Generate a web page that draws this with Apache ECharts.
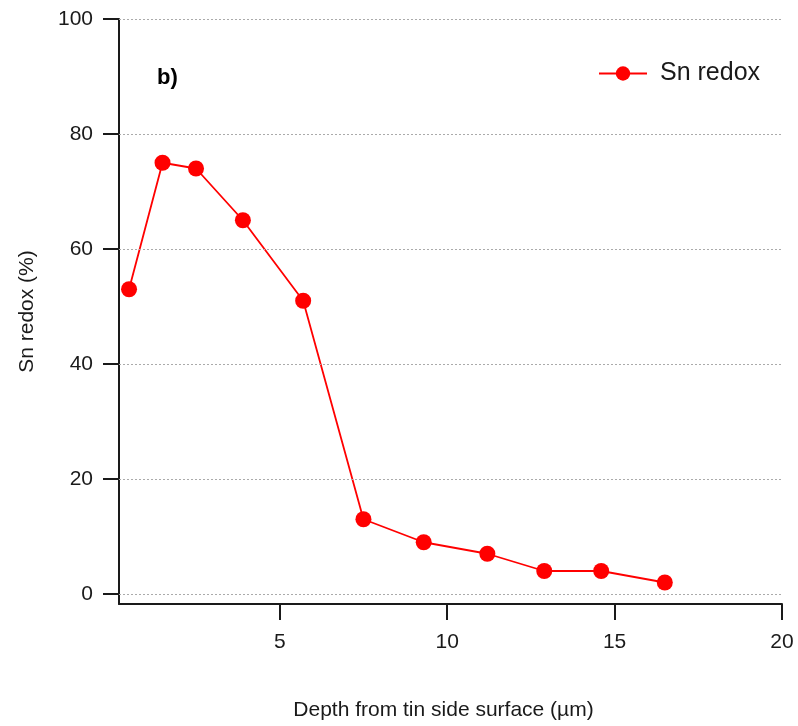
<!DOCTYPE html>
<html>
<head>
<meta charset="utf-8">
<script src="https://cdn.jsdelivr.net/npm/echarts@6/dist/echarts.min.js"></script>
<style>
  html, body { margin: 0; padding: 0; background: #fff; }
  #chart { width: 798px; height: 726px; }
</style>
</head>
<body>
<div id="chart"></div>
<script>
// Depth below the tin-side surface (µm) and the Sn redox ratio (%) at each depth
const depth = [0.5, 1.5, 2.5, 3.9, 5.7, 7.5, 9.3, 11.2, 12.9, 14.6, 16.5];
const snRedox = [53, 75, 74, 65, 51, 13, 9, 7, 4, 4, 2];

// Tick values shown on each axis
const xTicks = [5, 10, 15, 20];
const yTicks = [0, 20, 40, 60, 80, 100];

const seriesName = 'Sn redox';
const panelLabel = 'b)';

const FONT = 'Liberation Sans, Arial, sans-serif';
const INK = '#1a1a1a';

const chart = echarts.init(document.getElementById('chart'), null, { renderer: 'canvas' });

chart.setOption({
  backgroundColor: '#ffffff',
  animation: false,
  title: {
    text: panelLabel,
    left: 152,
    top: 62,
    textStyle: { fontFamily: FONT, fontSize: 22, fontWeight: 'bold', color: '#000' }
  },
  legend: {
    data: [seriesName],
    left: 593,
    top: 56,
    itemWidth: 48,
    itemHeight: 18,
    textStyle: { fontFamily: FONT, fontSize: 25, color: INK, padding: [0, 0, 0, 8] }
  },
  grid: { left: 119, right: 16, top: 19, bottom: 121, containLabel: false },
  xAxis: {
    type: 'value',
    min: 0.2,
    max: 20,
    name: 'Depth from tin side surface (µm)',
    nameLocation: 'middle',
    nameGap: 96,
    nameTextStyle: { fontFamily: FONT, fontSize: 21, color: INK, padding: [0, 14, 0, 0] },
    axisLine: { show: true, onZero: false, lineStyle: { color: INK, width: 2 } },
    axisTick: { show: true, inside: false, length: 16, customValues: xTicks, lineStyle: { color: INK, width: 2 } },
    axisLabel: { customValues: xTicks, margin: 28, fontFamily: FONT, fontSize: 21, color: INK },
    splitLine: { show: false }
  },
  yAxis: {
    type: 'value',
    min: -1.74,
    max: 100,
    name: 'Sn redox (%)',
    nameLocation: 'middle',
    nameGap: 81,
    nameTextStyle: { fontFamily: FONT, fontSize: 21, color: INK },
    axisLine: { show: true, onZero: false, lineStyle: { color: INK, width: 2 } },
    axisTick: { show: true, inside: false, length: 16, customValues: yTicks, lineStyle: { color: INK, width: 2 } },
    axisLabel: { customValues: yTicks, margin: 26, fontFamily: FONT, fontSize: 21, color: INK },
    splitLine: { show: false }
  },
  series: [
    {
      name: seriesName,
      type: 'line',
      data: depth.map((d, i) => [d, snRedox[i]]),
      symbol: 'circle',
      symbolSize: 16,
      lineStyle: { color: '#ff0000', width: 1.8 },
      itemStyle: { color: '#ff0000' },
      z: 3,
      markLine: {
        silent: true,
        symbol: 'none',
        label: { show: false },
        lineStyle: { color: '#aaaaaa', type: [2, 2], width: 1 },
        data: yTicks.map(v => ({ yAxis: v }))
      }
    }
  ]
});
</script>
</body>
</html>
